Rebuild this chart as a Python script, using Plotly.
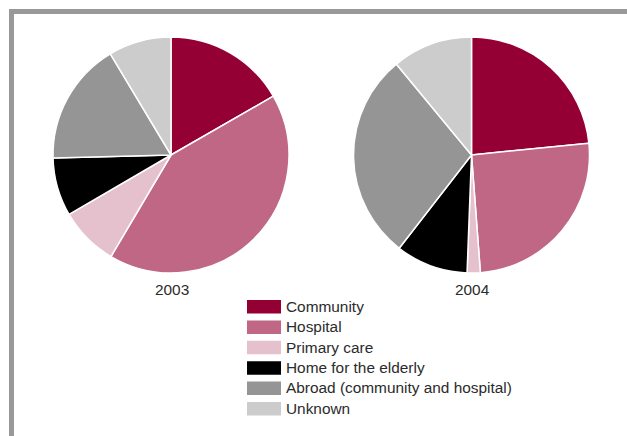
import plotly.graph_objects as go

W, H = 627, 436

categories = ["Community", "Hospital", "Primary care", "Home for the elderly",
              "Abroad (community and hospital)", "Unknown"]
colors = ["#950034", "#bf6785", "#e5c0cd", "#000000", "#959595", "#cccccc"]
years = ["2003", "2004"]
values_2003 = [16.7, 41.8, 8.1, 8.0, 16.8, 8.6]
values_2004 = [23.4, 25.4, 1.8, 9.9, 28.5, 11.0]

FONT = "Liberation Sans, Arial, Helvetica, sans-serif"
TEXT_COLOR = "#2b2b2b"


def px_x(x):
    return x / W


def px_y(y):
    return 1 - y / H


fig = go.Figure()

pie_centers = [(171, 155), (471.5, 155)]
pie_r = 118
for year, vals, (cx, cy) in zip(years, [values_2003, values_2004], pie_centers):
    fig.add_trace(go.Pie(
        labels=categories,
        values=vals,
        sort=False,
        direction="clockwise",
        rotation=0,
        textinfo="none",
        marker=dict(colors=colors, line=dict(color="white", width=1.5)),
        domain=dict(x=[px_x(cx - pie_r), px_x(cx + pie_r)],
                    y=[px_y(cy + pie_r), px_y(cy - pie_r)]),
        showlegend=False,
        name=year,
    ))
    fig.add_annotation(
        x=px_x(cx + 1), y=px_y(289), xref="paper", yref="paper",
        text=year, showarrow=False, xanchor="center", yanchor="middle",
        font=dict(family=FONT, size=15.4, color=TEXT_COLOR),
    )

# border (top and left)
border_color = "#999999"
fig.add_shape(type="rect", xref="paper", yref="paper",
              x0=px_x(9), x1=px_x(W), y0=px_y(14), y1=px_y(9),
              fillcolor=border_color, line=dict(width=0))
fig.add_shape(type="rect", xref="paper", yref="paper",
              x0=px_x(9), x1=px_x(14), y0=px_y(H), y1=px_y(9),
              fillcolor=border_color, line=dict(width=0))

# custom legend
leg_x0, leg_x1 = 247, 281
leg_top, leg_step, leg_h = 300, 20.4, 13.5
for i, (cat, col) in enumerate(zip(categories, colors)):
    top = leg_top + i * leg_step
    fig.add_shape(type="rect", xref="paper", yref="paper",
                  x0=px_x(leg_x0), x1=px_x(leg_x1),
                  y0=px_y(top + leg_h), y1=px_y(top),
                  fillcolor=col, line=dict(width=0))
    fig.add_annotation(
        x=px_x(284), y=px_y(top + leg_h / 2 - 0.5), xref="paper", yref="paper",
        text=cat, showarrow=False, xanchor="left", yanchor="middle",
        font=dict(family=FONT, size=15.4, color=TEXT_COLOR),
    )

fig.update_layout(
    width=W, height=H,
    margin=dict(l=0, r=0, t=0, b=0),
    paper_bgcolor="white",
    plot_bgcolor="white",
)

fig.write_html(
    "out.html",
    config={"displayModeBar": False},
    post_script="document.body.style.margin='0';document.body.style.padding='0';"
                "document.body.style.overflow='hidden';",
)
